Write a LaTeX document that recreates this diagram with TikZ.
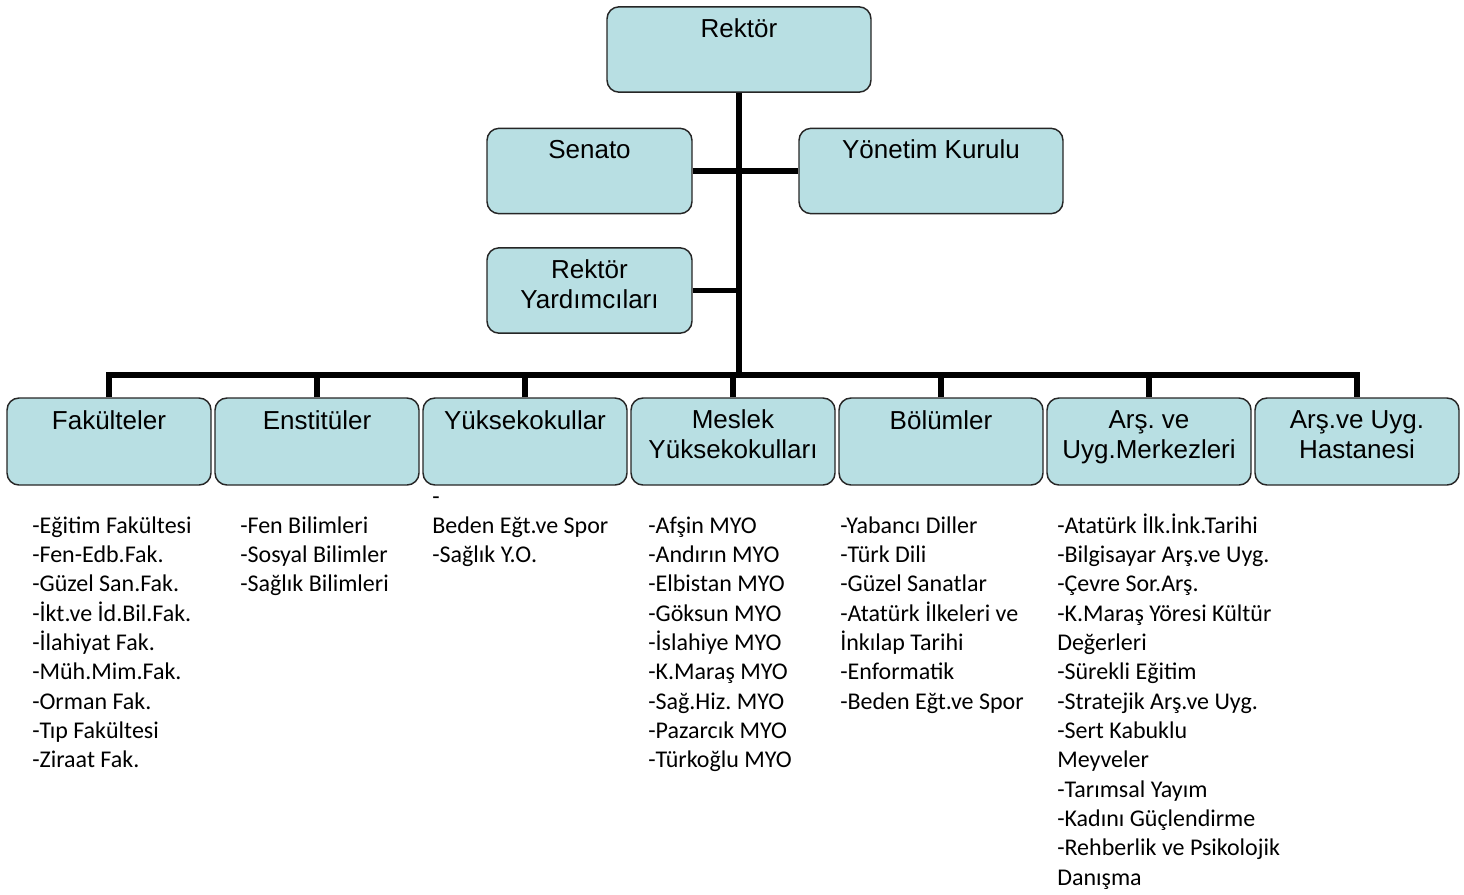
\documentclass[tikz,border=0pt]{standalone}
\usepackage{fontspec}
\setmainfont{Liberation Sans}
\newfontfamily\listfont{Carlito}
\definecolor{boxfill}{RGB}{184,223,227}
\frenchspacing
\begin{document}
\begin{tikzpicture}[x=0.75pt,y=-0.75pt,
  orgbox/.style={draw=black!85, line width=1.1pt, fill=boxfill, rounded corners=9pt, inner sep=0pt},
  bigbox/.style={orgbox, minimum width=198pt, minimum height=64pt},
  midbox/.style={orgbox, minimum width=153.75pt, minimum height=64pt},
  lowbox/.style={orgbox, minimum width=153pt, minimum height=65.25pt},
  boxtext/.style={font=\fontsize{19.5}{22}\selectfont\frenchspacing, align=center, anchor=base, inner sep=0pt},
  listtext/.style={font=\listfont\fontsize{18}{22}\selectfont\frenchspacing, align=left, anchor=base west, inner sep=0pt},
  link/.style={line width=3.8pt, line join=miter}]
\useasboundingbox (0,0) rectangle (1464,894);

% upper boxes
\node[bigbox] (rektor) at (739,49.5) {};
\node[midbox] (senato) at (589.5,171) {};
\node[bigbox] (yonetim) at (931,171) {};
\node[midbox] (ry) at (589.5,290.5) {};

% lower boxes
\node[lowbox] (fak) at (109,441.5) {};
\node[lowbox] (enst) at (317,441.5) {};
\node[lowbox] (yo) at (525,441.5) {};
\node[lowbox] (myo) at (733,441.5) {};
\node[lowbox] (bol) at (941,441.5) {};
\node[lowbox] (arm) at (1149,441.5) {};
\node[lowbox] (hast) at (1357,441.5) {};

% connectors
\coordinate (busY) at (739,375);
\draw[link] (rektor.south) -- (busY);
\draw[link] (senato.east) -- (yonetim.west);
\draw[link] (ry.east) -- (ry.east -| rektor.south);
\draw[link] (fak.north) -- (fak.north |- busY) -| (hast.north);
\foreach \b in {enst,yo,myo,bol,arm}{
  \draw[link] (\b.north) -- (\b.north |- busY);
}

% box texts (anchor base = baseline of the last line)
\node[boxtext] (rektorT) at (739,37) {Rektör};
\node[boxtext] (senatoT) at (589.5,158) {Senato};
\node[boxtext] (yonetimT) at (931,158) {Yönetim Kurulu};
\node[boxtext] (ryT) at (589.5,308.3) {Rektör\\Yardımcıları};
\node[boxtext] (fakT) at (109,429) {Fakülteler};
\node[boxtext] (enstT) at (317,429) {Enstitüler};
\node[boxtext] (yoT) at (525,429) {Yüksekokullar};
\node[boxtext] (myoT) at (733,458.3) {Meslek\\Yüksekokulları};
\node[boxtext] (bolT) at (941,429) {Bölümler};
\node[boxtext] (armT) at (1149,458.3) {Arş. ve\\Uyg.Merkezleri};
\node[boxtext] (hastT) at (1357,458.3) {Arş.ve Uyg.\\Hastanesi};

% lists (anchor base west = baseline of the last line)
\node[listtext] (fakL) at (32,767.7) {-Eğitim Fakültesi\\-Fen-Edb.Fak.\\-Güzel San.Fak.\\-İkt.ve İd.Bil.Fak.\\-İlahiyat Fak.\\-Müh.Mim.Fak.\\-Orman Fak.\\-Tıp Fakültesi\\-Ziraat Fak.};
\node[listtext] (enstL) at (240,591.7) {-Fen Bilimleri\\-Sosyal Bilimler\\-Sağlık Bilimleri};
\node[listtext] (yoL) at (432,562.7) {-\\Beden Eğt.ve Spor\\-Sağlık Y.O.};
\node[listtext] (myoL) at (648,767.7) {-Afşin MYO\\-Andırın MYO\\-Elbistan MYO\\-Göksun MYO\\-İslahiye MYO\\-K.Maraş MYO\\-Sağ.Hiz. MYO\\-Pazarcık MYO\\-Türkoğlu MYO};
\node[listtext] (bolL) at (840,709) {-Yabancı Diller\\-Türk Dili\\-Güzel Sanatlar\\-Atatürk İlkeleri ve\\İnkılap Tarihi\\-Enformatik\\-Beden Eğt.ve Spor};
\node[listtext] (armL) at (1057,885) {-Atatürk İlk.İnk.Tarihi\\-Bilgisayar Arş.ve Uyg.\\-Çevre Sor.Arş.\\-K.Maraş Yöresi Kültür\\Değerleri\\-Sürekli Eğitim\\-Stratejik Arş.ve Uyg.\\-Sert Kabuklu\\Meyveler\\-Tarımsal Yayım\\-Kadını Güçlendirme\\-Rehberlik ve Psikolojik\\Danışma};
\end{tikzpicture}
\end{document}
